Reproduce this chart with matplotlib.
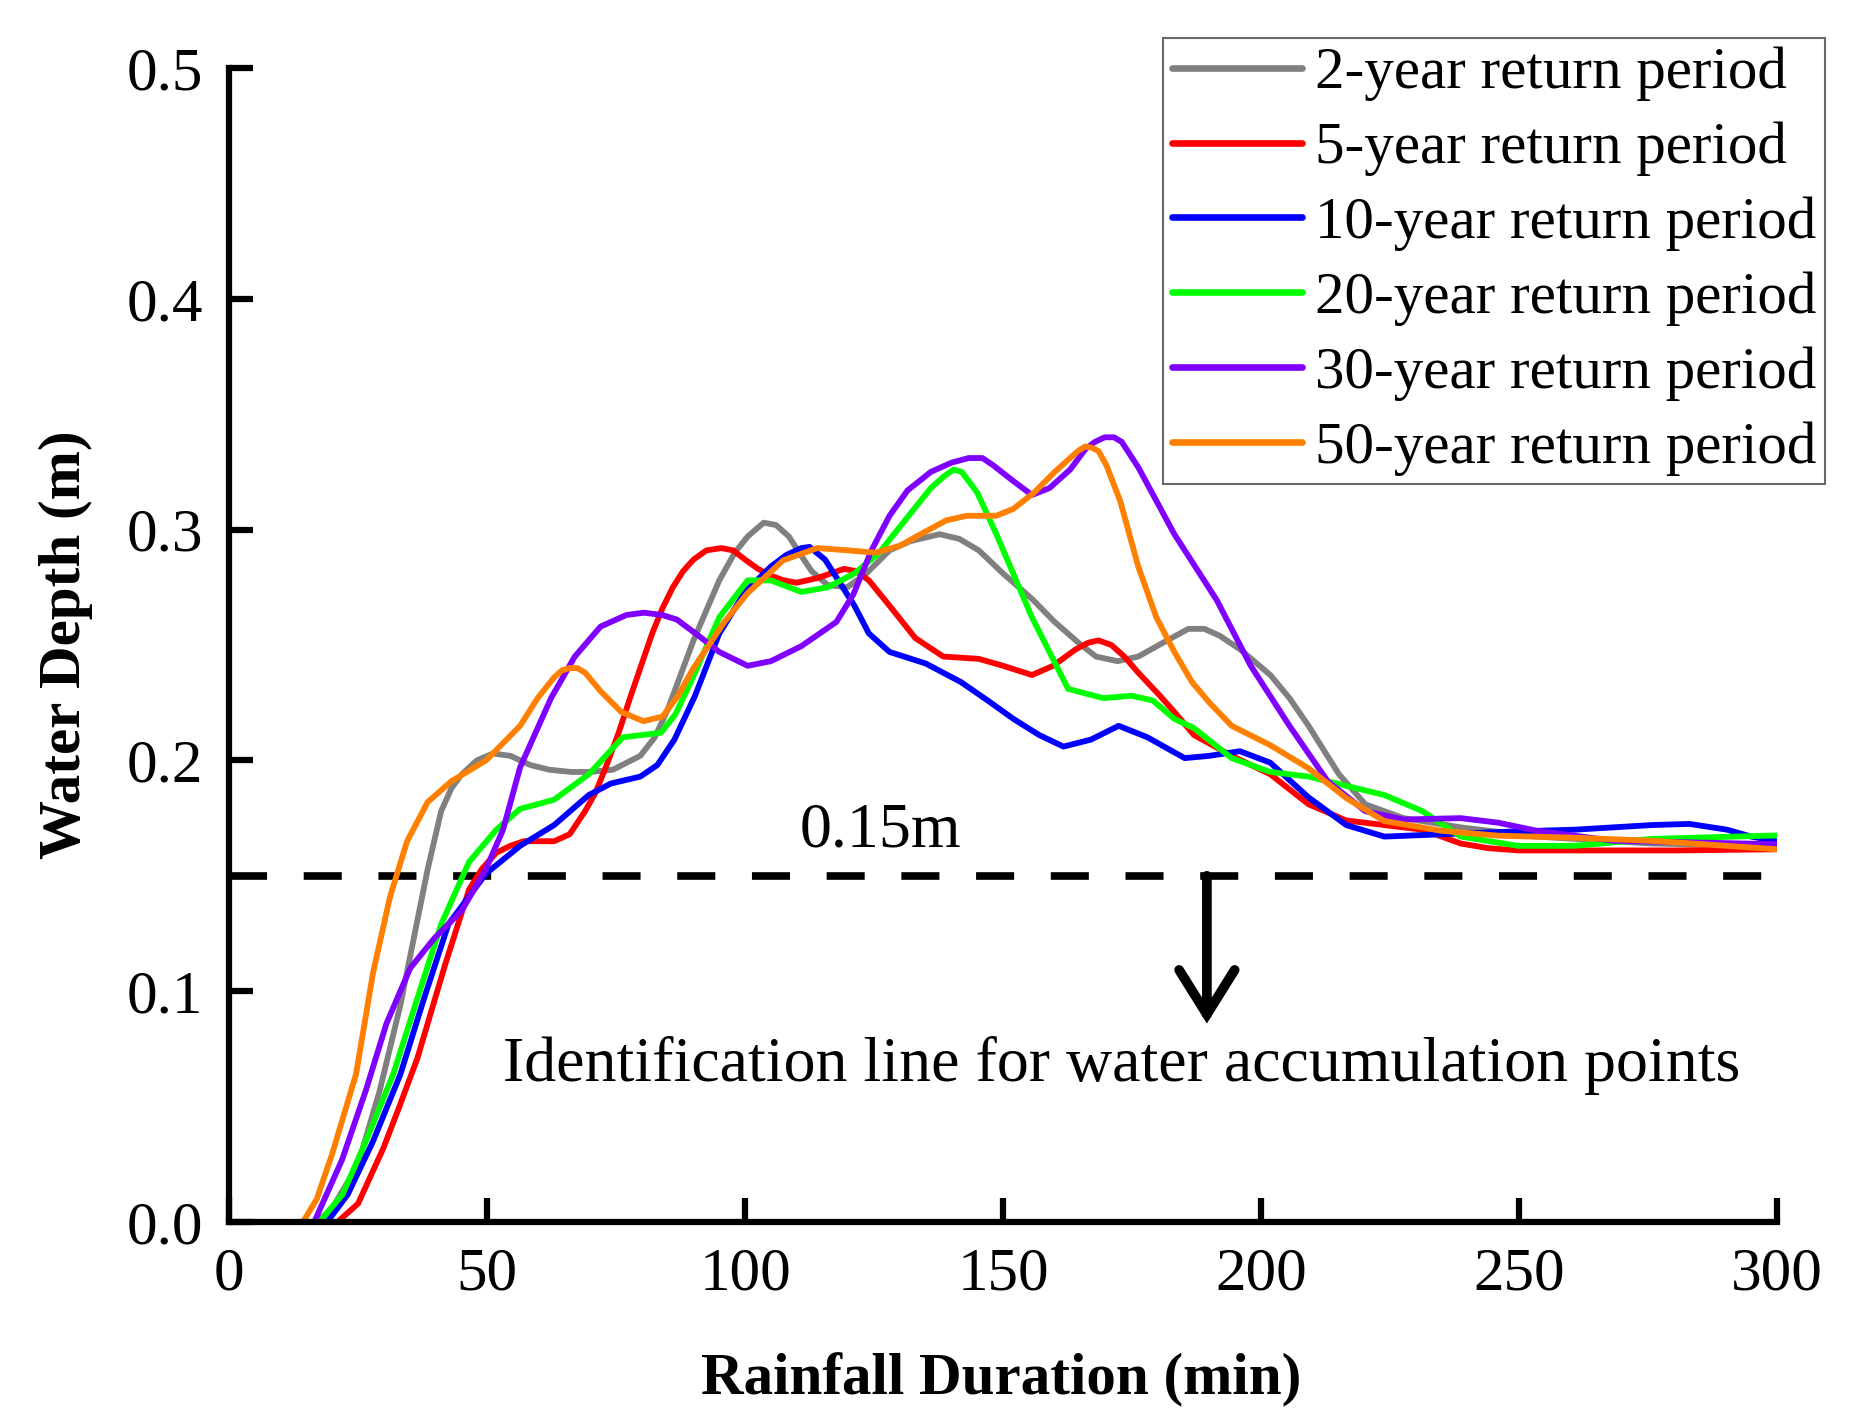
import matplotlib
matplotlib.use("Agg")
import matplotlib.pyplot as plt

plt.rcParams['font.family'] = ['Liberation Serif', 'DejaVu Serif']

# data (time in min, depth in m)
t_2yr = [17, 20, 25, 29.2, 33.2, 35.8, 38.5, 41.1, 43.1, 45.1, 48, 51.1, 54.5, 58.4, 62, 66.3, 70, 74.4,
         79.7, 82.5, 85, 87.5, 90, 95, 98, 100.5, 103.6, 106, 108.5, 110.8, 112.9, 116, 119.8, 123.5, 128,
         132, 137.7, 141.5, 145.3, 150, 155.6, 160, 164.6, 168, 172.2, 176.2, 181, 185.9, 189, 192, 196,
         201.8, 205.5, 209.2, 212, 215.1, 220.2, 227.6, 238.7, 253.5, 275.7, 300]
d_2yr = [0, 0.006, 0.025, 0.057, 0.094, 0.123, 0.153, 0.178, 0.188, 0.194, 0.2, 0.203, 0.202, 0.198,
         0.196, 0.195, 0.195, 0.196, 0.202, 0.21, 0.222, 0.237, 0.252, 0.278, 0.29, 0.297, 0.303, 0.302,
         0.297, 0.289, 0.282, 0.276, 0.275, 0.281, 0.291, 0.295, 0.298, 0.296, 0.291, 0.281, 0.27, 0.26,
         0.251, 0.245, 0.243, 0.245, 0.251, 0.257, 0.257, 0.254, 0.248, 0.237, 0.227, 0.215, 0.205, 0.194,
         0.181, 0.175, 0.171, 0.167, 0.164, 0.163]

t_5yr = [21, 25, 29.9, 33, 36.5, 41.8, 46.5, 49, 51.8, 54.5, 57.1, 60, 63, 66, 69, 71, 73, 75.5, 77.7,
         80, 82, 84, 86, 88, 90, 92.5, 95.4, 97.7, 100, 102.5, 105, 107.5, 110, 114, 119.2, 121.5, 124,
         128, 133, 138.4, 145.3, 150, 155.6, 159.7, 164, 166.5, 168.5, 171, 173.5, 176.2, 180, 183.2, 187,
         194.3, 201.8, 209.2, 216.5, 223.9, 231.3, 238.7, 244, 249.8, 260, 280, 300]
d_5yr = [0, 0.008, 0.032, 0.05, 0.071, 0.111, 0.144, 0.153, 0.160, 0.163, 0.165, 0.165, 0.165, 0.168,
         0.178, 0.186, 0.197, 0.212, 0.227, 0.242, 0.255, 0.266, 0.275, 0.282, 0.287, 0.291, 0.292, 0.291,
         0.287, 0.283, 0.28, 0.278, 0.277, 0.279, 0.283, 0.282, 0.278, 0.267, 0.253, 0.245, 0.244, 0.241,
         0.237, 0.241, 0.248, 0.251, 0.252, 0.25, 0.245, 0.238, 0.229, 0.221, 0.211, 0.202, 0.194, 0.181,
         0.174, 0.172, 0.17, 0.164, 0.162, 0.161, 0.161, 0.161, 0.1615]

t_10yr = [19, 23, 27.9, 33.2, 37.8, 42.5, 49.8, 56.4, 63, 69.7, 74, 79.7, 83, 86.3, 90.3, 95, 100, 105,
          108, 110.9, 112.5, 115.5, 117.5, 121.2, 124, 128, 135, 141.8, 147, 152, 157, 161.7, 167, 172.4,
          178, 185.2, 190, 195.9, 201.8, 209.2, 216.5, 223.9, 235, 246, 260.8, 275.7, 283, 290.3, 295, 300]
d_10yr = [0, 0.012, 0.035, 0.064, 0.097, 0.129, 0.151, 0.163, 0.172, 0.185, 0.19, 0.193, 0.198, 0.209,
          0.228, 0.255, 0.273, 0.284, 0.289, 0.292, 0.2925, 0.287, 0.28, 0.267, 0.255, 0.247, 0.242, 0.234,
          0.226, 0.218, 0.211, 0.206, 0.209, 0.215, 0.21, 0.201, 0.202, 0.204, 0.199, 0.184, 0.172, 0.167,
          0.168, 0.169, 0.17, 0.172, 0.1725, 0.17, 0.167, 0.165]

t_20yr = [17.5, 22, 26.5, 31.8, 36.5, 41.1, 46.5, 51.8, 56.4, 63, 69.7, 76.3, 80, 83.7, 86.5, 89.7, 95,
          100.5, 105, 110.9, 116, 121.2, 126, 131, 136, 138.5, 140.4, 142, 145, 148.7, 155.6, 162.6, 169.4,
          174.9, 179, 183.2, 187, 194.3, 201.8, 209.2, 216.5, 223.9, 231.3, 238.7, 249.8, 260.8, 275.7, 300]
d_20yr = [0, 0.012, 0.035, 0.064, 0.097, 0.129, 0.156, 0.170, 0.179, 0.183, 0.194, 0.21, 0.211, 0.212,
          0.22, 0.235, 0.262, 0.278, 0.278, 0.273, 0.275, 0.281, 0.29, 0.304, 0.318, 0.323, 0.326, 0.325,
          0.316, 0.298, 0.262, 0.231, 0.227, 0.228, 0.226, 0.218, 0.214, 0.201, 0.195, 0.193, 0.189, 0.185,
          0.178, 0.167, 0.163, 0.163, 0.166, 0.1675]

t_30yr = [16.5, 21.9, 26.5, 30.5, 35.1, 39.8, 45.1, 49.8, 53.1, 56.4, 62.4, 67, 72, 77, 80.4, 84, 86.8,
          91, 95, 100.5, 105, 110.9, 117.7, 121, 124.5, 128, 131.5, 136, 140, 143.3, 146, 148, 152, 155.6,
          159, 163, 166, 167.8, 169.7, 171.5, 173, 176.2, 183.2, 191.4, 198, 205.5, 212.9, 220.2, 227.6,
          238.7, 246, 253.5, 268.3, 300]
d_30yr = [0, 0.027, 0.057, 0.086, 0.11, 0.123, 0.135, 0.153, 0.17, 0.197, 0.227, 0.245, 0.258, 0.263,
          0.264, 0.263, 0.261, 0.254, 0.247, 0.241, 0.243, 0.2495, 0.26, 0.272, 0.291, 0.306, 0.317, 0.325,
          0.329, 0.331, 0.331, 0.328, 0.321, 0.315, 0.318, 0.326, 0.335, 0.338, 0.34, 0.34, 0.338, 0.327,
          0.298, 0.2695, 0.241, 0.215, 0.191, 0.178, 0.1744, 0.175, 0.173, 0.1695, 0.1652, 0.1637]

t_50yr = [14.3, 17, 19.9, 24.6, 27.9, 31.2, 34.5, 38.5, 43.1, 49.8, 56.4, 59.8, 63, 64.5, 66, 67.5, 69,
          72, 76, 80.3, 84, 87, 90, 93.6, 96, 100.5, 107.4, 114, 120, 125.3, 130, 134, 139, 143, 148.7, 152,
          156, 160, 163, 164.5, 165.9, 167.2, 168.5, 170, 172.7, 176.2, 179.7, 183.2, 186.6, 190, 194.3,
          201.8, 209.2, 216.5, 223.9, 235, 246, 260.8, 275.7, 300]
d_50yr = [0, 0.01, 0.029, 0.064, 0.108, 0.141, 0.165, 0.182, 0.191, 0.2, 0.215, 0.227, 0.236, 0.239,
          0.240, 0.24, 0.238, 0.23, 0.221, 0.217, 0.219, 0.228, 0.24, 0.252, 0.26, 0.2725, 0.2867, 0.292,
          0.291, 0.290, 0.293, 0.298, 0.304, 0.306, 0.306, 0.309, 0.316, 0.325, 0.331, 0.334, 0.336, 0.3355,
          0.334, 0.328, 0.3124, 0.284, 0.262, 0.247, 0.234, 0.225, 0.215, 0.2066, 0.1966, 0.1837, 0.1737,
          0.1695, 0.1674, 0.1665, 0.1652, 0.1615]

labels = ['2-year return period', '5-year return period', '10-year return period',
          '20-year return period', '30-year return period', '50-year return period']
colors = ['#808080', '#ff0000', '#0000ff', '#00ff00', '#8000ff', '#ff8000']
threshold = 0.15

fig = plt.figure(figsize=(18.7, 14.22), dpi=100)
ax = fig.add_axes([0.1225, 0.1406, 0.8278, 0.8116])

series = [(t_2yr, d_2yr), (t_5yr, d_5yr), (t_10yr, d_10yr),
          (t_20yr, d_20yr), (t_30yr, d_30yr), (t_50yr, d_50yr)]
for (t, d), lab, c in zip(series, labels, colors):
    ax.plot(t, d, color=c, lw=4.2, label=lab, solid_joinstyle='round', solid_capstyle='round')

ax.axhline(threshold, color='black', lw=5.5, linestyle=(0, (4.98, 4.8)), zorder=1)

ax.text(126.2, 0.1694, '0.15m', fontsize=46, ha='center', va='center')
ax.annotate('', xy=(189.5, 0.086), xytext=(189.5, threshold),
            arrowprops=dict(arrowstyle='->,head_length=1.6,head_width=1.0', color='black', lw=7,
                            mutation_scale=20, shrinkA=0, shrinkB=0,
                            capstyle='round', joinstyle='miter'))
ax.text(172.9, 0.068, 'Identification line for water accumulation points', fontsize=46,
        ha='center', va='center')

ax.set_xlim(0, 300)
ax.set_ylim(0, 0.5)
ax.set_xticks([0, 50, 100, 150, 200, 250, 300])
ax.set_yticks([0.0, 0.1, 0.2, 0.3, 0.4, 0.5])
ax.set_yticklabels(['0.0', '0.1', '0.2', '0.3', '0.4', '0.5'])
ax.tick_params(direction='in', length=17, width=4.5, labelsize=44)
ax.tick_params(axis='y', pad=19)
ax.tick_params(axis='x', pad=18)

for s in ['top', 'right']:
    ax.spines[s].set_visible(False)
for s in ['left', 'bottom']:
    ax.spines[s].set_linewidth(4.5)

ax.set_xlabel('Rainfall Duration (min)', fontsize=42.5, fontweight='bold', va='center')
ax.set_ylabel('Water Depth (m)', fontsize=42.5, fontweight='bold', va='center')
ax.xaxis.set_label_coords(0.499, -0.137)
ax.yaxis.set_label_coords(-0.1056, 0.5)

leg = ax.legend(loc='upper right', bbox_to_anchor=(1.031, 1.026), borderaxespad=0, fontsize=42.5,
                frameon=True, fancybox=False, edgecolor='#444444', handlelength=2.2,
                handletextpad=0.22, labelspacing=0.345, borderpad=0.15)
leg.get_frame().set_linewidth(1.5)
for line in leg.get_lines():
    line.set_linewidth(4.8)

fig.savefig('out.png', dpi=100)
